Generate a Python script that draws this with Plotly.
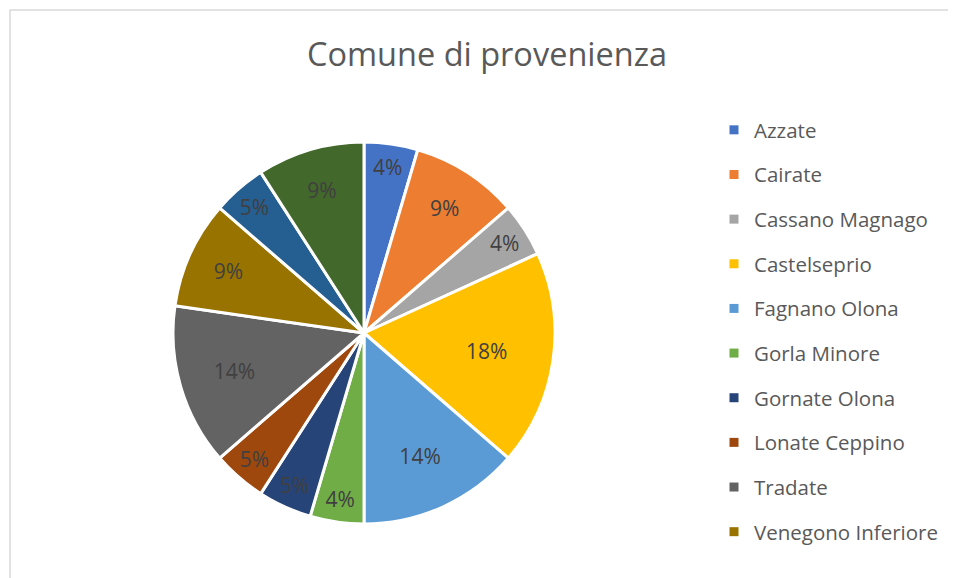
import plotly.graph_objects as go

# Slices in clockwise order starting at 12 o'clock
comuni = [
    "Azzate", "Cairate", "Cassano Magnago", "Castelseprio", "Fagnano Olona",
    "Gorla Minore", "Gornate Olona", "Lonate Ceppino", "Tradate",
    "Venegono Inferiore", "Venegono Superiore", "Vergiate",
]
conteggi = [1, 2, 1, 4, 3, 1, 1, 1, 3, 2, 1, 2]
# percentages as printed on the chart (rounded so they add up to 100%)
etichette = ["4%", "9%", "4%", "18%", "14%", "4%", "5%", "5%", "14%", "9%", "5%", "9%"]
colori = [
    "#4472c4", "#ed7d31", "#a5a5a5", "#ffc000", "#5b9bd5", "#70ad47",
    "#264478", "#9e480e", "#636363", "#997300", "#255e91", "#43682b",
]
# only the first ten entries are visible in the (cropped) legend
n_legenda = 10

# the page body has an 8px margin, so work in page pixels and shift
OFF = 8
W, H = 956 - OFF, 578 - OFF


def px(x):
    return (x - OFF) / W


def py(y):
    return 1 - (y - OFF) / H


cx, cy, r = 364, 333, 191

fig = go.Figure()
fig.add_trace(go.Pie(
    labels=comuni,
    values=conteggi,
    text=etichette,
    sort=False,
    direction="clockwise",
    rotation=0,
    marker=dict(colors=colori, line=dict(color="white", width=3)),
    texttemplate="%{text}",
    textposition="inside",
    insidetextorientation="horizontal",
    textfont=dict(size=21, color="#404040", family="Open Sans"),
    showlegend=False,
    domain=dict(x=[px(cx - r), px(cx + r)], y=[py(cy + r), py(cy - r)]),
    hoverinfo="label+value+percent",
))

# legend entries
for i in range(n_legenda):
    fig.add_trace(go.Scatter(
        x=[None], y=[None], mode="markers", name=comuni[i],
        marker=dict(symbol="square", size=9, color=colori[i]),
        legendgroup=str(i), showlegend=True,
    ))

fig.add_shape(type="rect", xref="paper", yref="paper",
              x0=px(10), x1=1.02, y0=-0.02, y1=py(10),
              line=dict(color="#d9d9d9", width=1.5), layer="below")

fig.update_layout(
    width=W, height=H,
    margin=dict(l=0, r=0, t=0, b=0),
    paper_bgcolor="white",
    plot_bgcolor="white",
    title=dict(text="Comune di provenienza", x=px(487), xanchor="center",
               y=py(55), yanchor="middle",
               font=dict(size=32.5, color="#595959", family="Open Sans")),
    xaxis=dict(visible=False),
    yaxis=dict(visible=False),
    legend=dict(x=px(714), xanchor="left", y=py(110), yanchor="top",
                font=dict(size=20.5, color="#595959", family="Open Sans"),
                tracegroupgap=15, itemwidth=30, bgcolor="rgba(0,0,0,0)"),
    font=dict(family="Open Sans"),
)

fig.write_html("out.html")
